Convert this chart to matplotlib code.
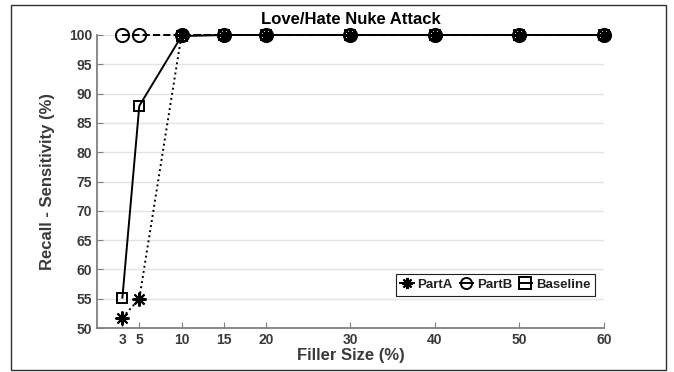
import matplotlib
matplotlib.use("Agg")
import matplotlib.pyplot as plt
from matplotlib.patches import Rectangle

plt.rcParams['font.family'] = ['Liberation Sans', 'DejaVu Sans']
plt.rcParams['font.weight'] = 'bold'

filler = [3, 5, 10, 15, 20, 30, 40, 50, 60]
part_a = [51.8, 55.0, 100, 100, 100, 100, 100, 100, 100]
part_b = [100, 100, 100, 100, 100, 100, 100, 100, 100]
baseline = [55.2, 87.9, 99.8, 100, 100, 100, 100, 100, 100]
yticks = list(range(50, 101, 5))

txt = "#3a3a3a"
spine = "#808080"

fig = plt.figure(figsize=(6.74, 3.72), dpi=100)
ax = fig.add_axes([0.144, 0.118, 0.752, 0.788])

ax.plot(filler, part_a, color="k", linestyle=":", linewidth=1.4, marker=(8, 2, 0),
        markersize=10, markeredgewidth=1.5, label="PartA", clip_on=False, zorder=3)
ax.plot(filler, part_b, color="k", linestyle="--", linewidth=1.4, marker="o",
        markersize=9.5, markerfacecolor="none", markeredgewidth=1.4, label="PartB",
        clip_on=False, zorder=3)
ax.plot(filler, baseline, color="k", linestyle="-", linewidth=1.4, marker="s",
        markersize=7.5, markerfacecolor="none", markeredgewidth=1.4, label="Baseline",
        clip_on=False, zorder=3)

ax.set_xlim(0, 60)
ax.set_ylim(50, 100)
ax.set_xticks(filler)
ax.set_yticks(yticks)
ax.yaxis.grid(True, color="#e3e3e3", linewidth=1)
ax.set_axisbelow(True)

for s in ["top", "right"]:
    ax.spines[s].set_visible(False)
for s in ["left", "bottom"]:
    ax.spines[s].set_color(spine)
    ax.spines[s].set_linewidth(1.3)

ax.tick_params(direction="in", length=4, color=spine, labelcolor=txt, labelsize=10)
for lab in ax.get_xticklabels() + ax.get_yticklabels():
    lab.set_fontweight("bold")

ax.set_title("Love/Hate Nuke Attack", fontsize=12, color="k", fontweight="bold", pad=8)
ax.set_xlabel("Filler Size (%)", fontsize=12, color=txt, fontweight="bold", labelpad=1)
ax.set_ylabel("Recall - Sensitivity (%)", fontsize=12, color=txt, fontweight="bold", labelpad=10)

leg = ax.legend(loc="lower right", ncol=3, fontsize=9.5, handlelength=1.0,
                handletextpad=0.3, columnspacing=0.5, borderpad=0.35,
                fancybox=False, framealpha=1, bbox_to_anchor=(0.995, 0.088))
leg.get_frame().set_edgecolor("#202020")
leg.get_frame().set_linewidth(0.8)
for t in leg.get_texts():
    t.set_color("#202020")
for h in leg.legend_handles:
    h.set_linestyle("-")
    h.set_markersize(8)

fig.patches.append(Rectangle((11 / 674, 2 / 372), 655 / 674, 365 / 372,
                             transform=fig.transFigure, fill=False,
                             edgecolor="#303030", linewidth=1.0))

fig.savefig("out.png", dpi=100)
